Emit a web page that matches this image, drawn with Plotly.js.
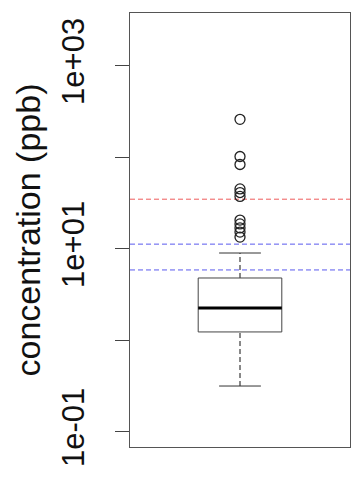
<!DOCTYPE html>
<html>
<head>
<meta charset="utf-8">
<script src="https://cdn.plot.ly/plotly-3.0.1.min.js"></script>
<style>
  html, body { margin: 0; padding: 0; background: #ffffff; }
  #chart { width: 351px; height: 477px; }
</style>
</head>
<body>
<div id="chart"></div>
<script>
// Five-number summary of the concentration sample (ppb)
const boxStats = { lower: 0.318, q1: 1.24, median: 2.27, q3: 4.82, upper: 9.04 };
// Observations beyond the upper whisker
const outliers = [261, 102.5, 83.8, 45.3, 41.4, 37.5, 20.7, 18.8, 17.0, 15.3, 13.5];
// Reference levels drawn as dashed guide lines
const redLevels = [35];
const blueLevels = [11.3, 5.9];
// Axis ticks
const tickVals = [0.1, 1, 10, 100, 1000];
const tickText = ["1e-01", "", "1e+01", "", "1e+03"];

const xc = 1;        // box position
const hw = 0.19;     // box half width
const cw = hw / 2;   // staple half width

const traces = [];

// guide lines spanning the plot width
function hline(level, color) {
  return { x: [0.5, 1.5], y: [level, level], mode: "lines", hoverinfo: "skip",
           line: { color: color, width: 1, dash: "5px,3px" }, showlegend: false };
}
redLevels.forEach(v => traces.push(hline(v, "#ee5a5a")));
blueLevels.forEach(v => traces.push(hline(v, "#5a5aee")));

// whiskers (dashed)
traces.push({ x: [xc, xc], y: [boxStats.q3, boxStats.upper], mode: "lines",
  line: { color: "#111", width: 1, dash: "5px,3px" }, showlegend: false, hoverinfo: "skip" });
traces.push({ x: [xc, xc], y: [boxStats.lower, boxStats.q1], mode: "lines",
  line: { color: "#111", width: 1, dash: "5px,3px" }, showlegend: false, hoverinfo: "skip" });
// staples
traces.push({ x: [xc - cw, xc + cw], y: [boxStats.upper, boxStats.upper], mode: "lines",
  line: { color: "#333", width: 1 }, showlegend: false, hoverinfo: "skip" });
traces.push({ x: [xc - cw, xc + cw], y: [boxStats.lower, boxStats.lower], mode: "lines",
  line: { color: "#333", width: 1 }, showlegend: false, hoverinfo: "skip" });
// box
traces.push({ x: [xc - hw, xc + hw, xc + hw, xc - hw, xc - hw],
  y: [boxStats.q1, boxStats.q1, boxStats.q3, boxStats.q3, boxStats.q1],
  mode: "lines", fill: "toself", fillcolor: "rgba(255,255,255,0)",
  line: { color: "#444", width: 1 }, showlegend: false, hoverinfo: "skip" });
// median
traces.push({ x: [xc - hw, xc + hw], y: [boxStats.median, boxStats.median], mode: "lines",
  line: { color: "#000", width: 3 }, showlegend: false, hoverinfo: "skip" });
// outliers
traces.push({ x: outliers.map(() => xc), y: outliers, mode: "markers",
  marker: { symbol: "circle-open", size: 10, color: "#222", line: { width: 1.3 } },
  showlegend: false });

const layout = {
  width: 351, height: 477,
  margin: { l: 130, r: 1, t: 13, b: 30 },
  paper_bgcolor: "#ffffff", plot_bgcolor: "#ffffff",
  font: { family: "Liberation Sans, Arial, sans-serif", color: "#111" },
  showlegend: false,
  xaxis: {
    range: [0.5, 1.5], showgrid: false, zeroline: false,
    showticklabels: false, ticks: "",
    showline: true, mirror: true, linecolor: "#555", linewidth: 1
  },
  yaxis: {
    type: "log", range: [-1.164, 3.579], autorange: false,
    showgrid: false, zeroline: false,
    tickmode: "array", tickvals: tickVals, ticktext: tickText,
    ticks: "outside", ticklen: 14, tickcolor: "#444", tickwidth: 1,
    tickangle: -90, tickfont: { size: 31, color: "#111" },
    ticklabelstandoff: 19,
    showline: true, mirror: true, linecolor: "#555", linewidth: 1,
    automargin: false,
    title: { text: "concentration (ppb)", font: { size: 34, color: "#111" }, standoff: 4 }
  }
};

Plotly.newPlot("chart", traces, layout, { staticPlot: true, displayModeBar: false });
</script>
</body>
</html>
